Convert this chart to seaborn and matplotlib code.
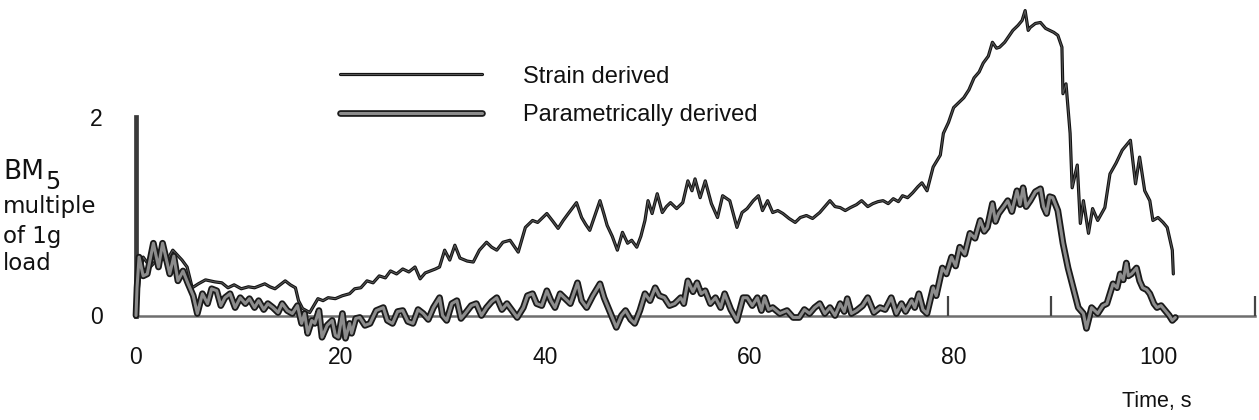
import numpy as np
import pandas as pd
import matplotlib
matplotlib.use("Agg")
import matplotlib.pyplot as plt
import matplotlib.patheffects as pe
import seaborn as sns

# Time (s) and bending-moment multiple of 1g load, strain-derived trace
strain_t = [0.0, 0.3, 0.7, 1.4, 2.3, 3.0, 3.6, 4.5, 5.0, 5.5, 6.1, 6.8, 7.7, 8.4, 9.0, 9.6,
            10.3, 11.0, 11.6, 12.1, 12.6, 13.1, 13.6, 14.1, 14.6, 15.1, 15.6, 15.9, 16.3,
            17.0, 17.4, 17.8, 18.3, 18.8, 19.5, 20.2, 20.9, 21.4, 22.0, 22.6, 23.2, 23.8,
            24.4, 24.9, 25.5, 26.1, 26.7, 27.3, 27.8, 28.3, 28.8, 29.3, 29.7, 30.2, 30.7,
            31.2, 31.7, 32.4, 33.0, 33.6, 34.3, 34.8, 35.3, 35.9, 36.6, 37.0, 37.4, 38.1,
            38.8, 39.3, 39.8, 40.2, 40.8, 41.3, 41.8, 42.3, 43.1, 43.6, 44.0, 44.4, 44.9,
            45.4, 45.8, 46.1, 46.6, 47.1, 47.6, 48.1, 48.5, 49.0, 49.4, 49.8, 50.1, 50.5,
            51.0, 51.5, 51.9, 52.3, 52.9, 53.5, 54.0, 54.4, 54.7, 55.2, 55.7, 56.3, 56.9,
            57.4, 58.1, 58.8, 59.3, 59.8, 60.4, 60.9, 61.3, 61.8, 62.3, 62.8, 63.3, 63.9,
            64.5, 65.0, 65.6, 66.2, 66.9, 67.4, 67.9, 68.4, 68.9, 69.4, 69.9, 70.5, 71.0,
            71.6, 72.1, 72.6, 73.1, 73.6, 74.1, 74.6, 75.0, 75.5, 76.0, 76.5, 76.9, 77.4,
            78.0, 78.7, 79.0, 79.5, 80.0, 80.5, 81.0, 81.5, 82.0, 82.5, 82.9, 83.4, 83.8,
            84.2, 84.5, 85.0, 85.4, 85.8, 86.3, 86.7, 87.0, 87.3, 87.5, 88.0, 88.5, 89.0,
            89.4, 89.8, 90.2, 90.6, 90.7, 91.0, 91.4, 91.6, 92.1, 92.4, 92.7, 93.2, 93.6,
            94.1, 94.8, 95.3, 95.9, 96.5, 97.3, 97.8, 98.2, 98.7, 99.2, 99.5, 100.0, 100.5,
            100.9, 101.4, 101.5]
strain_v = [0.00, 0.35, 0.59, 0.49, 0.59, 0.55, 0.66, 0.56, 0.49, 0.28, 0.32, 0.36, 0.34, 0.33,
            0.28, 0.31, 0.27, 0.29, 0.28, 0.30, 0.32, 0.29, 0.27, 0.31, 0.35, 0.31, 0.28, 0.15,
            0.07, 0.03, 0.10, 0.17, 0.15, 0.18, 0.17, 0.20, 0.22, 0.27, 0.28, 0.35, 0.33, 0.40,
            0.38, 0.45, 0.42, 0.47, 0.44, 0.49, 0.37, 0.43, 0.45, 0.47, 0.49, 0.66, 0.56, 0.71,
            0.58, 0.55, 0.54, 0.66, 0.74, 0.69, 0.66, 0.74, 0.76, 0.70, 0.64, 0.89, 0.96, 0.94,
            0.99, 1.03, 0.95, 0.88, 0.96, 1.03, 1.14, 0.99, 0.92, 0.86, 1.01, 1.16, 1.02, 0.91,
            0.80, 0.66, 0.84, 0.73, 0.76, 0.69, 0.80, 0.96, 1.16, 1.03, 1.23, 1.04, 1.10, 1.14,
            1.08, 1.14, 1.36, 1.26, 1.38, 1.19, 1.36, 1.13, 0.99, 1.21, 1.16, 0.89, 1.04, 1.08,
            1.16, 1.21, 1.06, 1.16, 1.04, 1.06, 1.03, 0.98, 0.94, 0.99, 1.01, 0.98, 1.04, 1.10,
            1.16, 1.10, 1.09, 1.06, 1.09, 1.12, 1.16, 1.10, 1.13, 1.15, 1.16, 1.13, 1.18, 1.15,
            1.21, 1.19, 1.24, 1.30, 1.34, 1.26, 1.50, 1.62, 1.84, 1.95, 2.10, 2.15, 2.20, 2.28,
            2.40, 2.46, 2.55, 2.62, 2.76, 2.70, 2.71, 2.76, 2.82, 2.88, 2.93, 2.98, 3.08, 2.88,
            2.91, 2.95, 2.96, 2.90, 2.88, 2.86, 2.83, 2.71, 2.24, 2.34, 1.84, 1.29, 1.52, 0.93,
            1.16, 0.83, 1.08, 0.96, 1.09, 1.43, 1.54, 1.67, 1.77, 1.33, 1.60, 1.26, 1.16, 0.96,
            0.99, 0.94, 0.89, 0.66, 0.42]

# Parametrically derived trace
param_t = [0.0, 0.1, 0.3, 0.7, 1.1, 1.7, 2.2, 2.6, 3.0, 3.3, 3.7, 4.1, 4.6, 5.1, 5.6, 6.0, 6.5,
           7.0, 7.4, 7.9, 8.3, 8.7, 9.2, 9.7, 10.2, 10.7, 11.1, 11.6, 12.0, 12.5, 12.9, 13.4,
           13.9, 14.3, 14.8, 15.3, 15.8, 16.2, 16.5, 16.8, 17.2, 17.5, 17.9, 18.2, 18.7, 19.2,
           19.5, 19.8, 20.2, 20.5, 20.9, 21.1, 21.5, 21.9, 22.4, 22.9, 23.5, 24.2, 24.6, 25.1,
           25.6, 26.1, 26.6, 27.1, 27.6, 28.1, 28.6, 29.1, 29.7, 30.0, 30.4, 30.9, 31.4, 31.8,
           32.2, 32.8, 33.3, 33.8, 34.3, 34.8, 35.3, 35.8, 36.3, 36.8, 37.3, 37.9, 38.3, 38.8,
           39.2, 39.7, 40.2, 40.6, 41.0, 41.5, 41.9, 42.5, 43.2, 43.6, 44.1, 44.7, 45.4, 45.8,
           46.2, 46.6, 47.0, 47.5, 47.9, 48.4, 48.8, 49.3, 49.8, 50.3, 50.8, 51.2, 51.7, 52.2,
           52.7, 53.3, 53.6, 54.0, 54.5, 54.9, 55.3, 55.7, 56.2, 56.7, 57.2, 57.6, 58.2, 58.8,
           59.4, 59.8, 60.3, 60.8, 61.2, 61.5, 61.9, 62.3, 63.0, 63.7, 64.3, 64.9, 65.4, 65.9,
           66.4, 66.9, 67.4, 67.9, 68.4, 68.9, 69.3, 69.6, 70.0, 70.5, 71.1, 71.6, 72.2, 72.8,
           73.3, 73.9, 74.4, 74.9, 75.3, 75.9, 76.2, 76.6, 77.0, 77.4, 78.0, 78.3, 78.9, 79.3,
           79.8, 80.2, 80.6, 81.1, 81.6, 82.1, 82.6, 83.0, 83.3, 83.8, 84.1, 84.4, 84.9, 85.3,
           85.7, 86.2, 86.5, 86.8, 87.1, 87.5, 88.0, 88.5, 88.8, 89.1, 89.4, 89.7, 90.2, 90.7,
           91.2, 91.7, 92.2, 92.7, 93.0, 93.5, 94.1, 94.6, 95.0, 95.6, 96.0, 96.3, 96.6, 96.9,
           97.1, 97.4, 97.9, 98.2, 98.5, 98.9, 99.2, 99.6, 99.9, 100.3, 100.7, 101.1, 101.4,
           101.7]
param_v = [0.00, 0.28, 0.59, 0.40, 0.42, 0.73, 0.49, 0.73, 0.55, 0.42, 0.60, 0.35, 0.45, 0.32,
           0.20, 0.02, 0.22, 0.12, 0.27, 0.25, 0.10, 0.18, 0.22, 0.08, 0.18, 0.12, 0.17, 0.08,
           0.15, 0.06, 0.12, 0.08, 0.03, 0.12, 0.05, 0.02, 0.10, -0.08, 0.02, -0.18, -0.05,
           -0.08, 0.05, -0.22, -0.10, -0.05, -0.20, -0.22, 0.02, -0.23, -0.08, -0.18, -0.03,
           -0.02, -0.10, -0.08, 0.05, 0.08, -0.05, -0.08, 0.04, 0.05, -0.06, -0.08, 0.06, 0.02,
           -0.04, 0.08, 0.18, 0.00, -0.05, 0.12, 0.15, -0.03, 0.02, 0.10, 0.12, 0.00, 0.08, 0.14,
           0.18, 0.06, 0.12, 0.05, -0.02, 0.08, 0.20, 0.22, 0.12, 0.10, 0.25, 0.15, 0.08, 0.22,
           0.18, 0.12, 0.33, 0.15, 0.08, 0.20, 0.32, 0.18, 0.08, -0.02, -0.12, 0.00, 0.05, -0.04,
           -0.08, 0.05, 0.22, 0.15, 0.28, 0.20, 0.18, 0.10, 0.12, 0.18, 0.12, 0.35, 0.24, 0.33,
           0.22, 0.25, 0.12, 0.18, 0.08, 0.22, 0.06, -0.05, 0.18, 0.18, 0.10, 0.18, 0.05, 0.18,
           0.06, 0.08, 0.02, 0.05, -0.02, -0.02, 0.06, 0.02, 0.08, 0.12, 0.02, 0.08, 0.00, 0.12,
           0.04, 0.17, 0.02, 0.05, 0.10, 0.18, 0.03, 0.08, 0.06, 0.18, 0.02, 0.12, 0.04, 0.15,
           0.08, 0.22, 0.06, 0.02, 0.28, 0.20, 0.48, 0.42, 0.59, 0.50, 0.69, 0.62, 0.83, 0.78,
           0.96, 0.85, 0.89, 1.13, 0.95, 1.03, 1.10, 1.16, 1.05, 1.26, 1.12, 1.29, 1.10, 1.16,
           1.25, 1.28, 1.10, 1.03, 1.20, 1.19, 1.06, 0.73, 0.48, 0.28, 0.08, 0.02, -0.13, 0.08,
           0.02, 0.10, 0.12, 0.32, 0.28, 0.42, 0.36, 0.53, 0.40, 0.42, 0.48, 0.35, 0.28, 0.26,
           0.22, 0.12, 0.08, 0.10, 0.05, 0.00, -0.05, -0.02]

# Event marks on the time base
event_marks = [79.5, 89.5, 109.5]
time_ticks = [0, 20, 40, 60, 80, 100]
load_ticks = [0, 2]
time_end = 109.5

sns.set_theme(style="white")
plt.rcParams["font.family"] = ["Liberation Sans", "DejaVu Sans"]

W, H = 1259, 420
fig = plt.figure(figsize=(W / 100, H / 100), dpi=100)
ax = fig.add_axes([0, 0, 1, 1])
ax.set_facecolor("white")

# pixel scale: 10.22 px per second, 99 px per unit load
x0_px, xs = 136.0, 10.22
y0_px, ys = 315.5, 99.0
ax.set_xlim(-x0_px / xs, (W - x0_px) / xs)
ax.set_ylim(-(H - y0_px) / ys, y0_px / ys)

strain_df = pd.DataFrame({"time": strain_t, "load": strain_v})
param_df = pd.DataFrame({"time": param_t, "load": param_v})

sns.lineplot(data=strain_df, x="time", y="load", ax=ax, estimator=None, sort=False,
             color="#555555", lw=0.8, label="Strain derived",
             path_effects=[pe.Stroke(linewidth=2.3, foreground="#111111"), pe.Normal()])
sns.lineplot(data=param_df, x="time", y="load", ax=ax, estimator=None, sort=False,
             color="#8c8c8c", lw=2.2, label="Parametrically derived",
             path_effects=[pe.Stroke(linewidth=4.8, foreground="#1a1a1a"), pe.Normal()])

# axes drawn as a plotter would: load axis from 0 to 2, time base along zero
for s in ["top", "right"]:
    ax.spines[s].set_visible(False)
ax.spines["left"].set_position(("data", 0))
ax.spines["left"].set_bounds(0, 2)
ax.spines["left"].set_linewidth(3.4)
ax.spines["left"].set_color("#3a3a3a")
ax.spines["bottom"].set_position(("data", 0))
ax.spines["bottom"].set_bounds(0, time_end)
ax.spines["bottom"].set_linewidth(1.8)
ax.spines["bottom"].set_color("#6e6e6e")
ax.spines["left"].set_zorder(0.5)
ax.spines["bottom"].set_zorder(0.5)

ax.vlines(event_marks, 0, 0.2, color="#444444", lw=1.6)

ax.set_xticks(time_ticks)
ax.set_xticklabels([str(t) for t in time_ticks])
ax.set_yticks(load_ticks)
ax.set_yticklabels([str(v) for v in load_ticks])
ax.tick_params(axis="x", length=0, pad=22, labelsize=16.5, colors="#111111")
ax.tick_params(axis="y", direction="in", length=6, width=2, color="#3a3a3a",
               pad=24, labelsize=16.5, labelcolor="#111111")
ax.set_xlabel("")
ax.set_ylabel("")

leg = ax.legend(loc="center left", bbox_to_anchor=(340 / W, 1 - 96 / H),
                bbox_transform=fig.transFigure, frameon=False, fontsize=17,
                handlelength=6.0, handletextpad=1.75, labelspacing=0.7,
                borderpad=0, borderaxespad=0)
for txt in leg.get_texts():
    txt.set_color("#111111")

# load axis caption
fig.text(3 / W, 1 - 179 / H, "BM", ha="left", va="baseline", fontsize=19,
         family=["DejaVu Sans"], color="#111111")
fig.text(45 / W, 1 - 189 / H, "5", ha="left", va="baseline", fontsize=17,
         family=["DejaVu Sans"], color="#111111")
ylab = [("multiple", 213), ("of 1g", 243), ("load", 270)]
for s, py in ylab:
    fig.text(3 / W, 1 - py / H, s, ha="left", va="baseline", fontsize=16.5,
             family=["DejaVu Sans"], color="#111111")

fig.text(1157 / W, 1 - 407 / H, "Time, s", ha="center", va="baseline",
         fontsize=15.5, color="#111111")

fig.savefig("out.png", dpi=100, facecolor="white")
